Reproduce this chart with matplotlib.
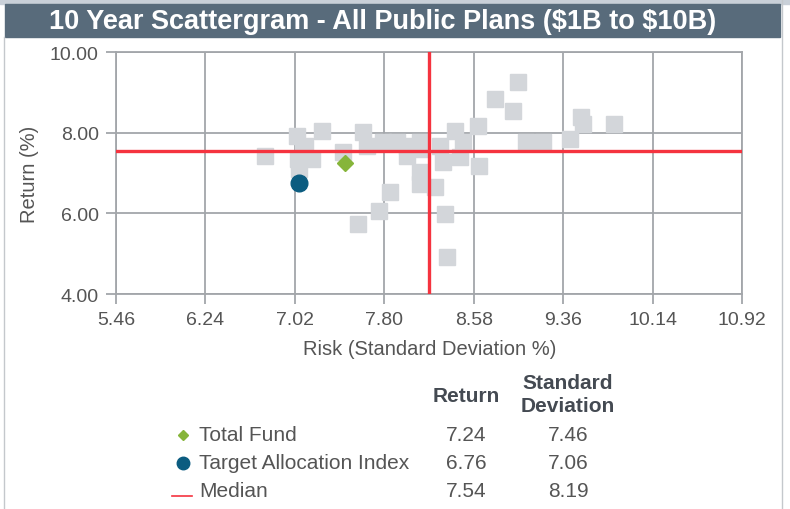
import matplotlib.pyplot as plt
from matplotlib.lines import Line2D
from matplotlib.patches import Rectangle

# peer universe (risk = std dev %, return %)
peer_risk = [6.76, 7.04, 7.26, 7.05, 7.17, 7.06, 7.11, 7.09, 7.61, 7.44, 7.65,
             7.79, 7.91, 8.00, 8.11, 8.00, 8.11, 8.11, 8.24, 7.85, 7.75, 7.57,
             8.33, 8.35, 8.29, 8.42, 8.49, 8.31, 8.46, 8.63, 8.62, 8.77, 8.97,
             8.92, 9.52, 9.53, 9.80, 9.04, 9.18, 9.42, 8.11]
peer_return = [7.42, 7.92, 8.04, 7.35, 7.35, 7.10, 7.67, 7.52, 8.02, 7.52, 7.67,
               7.77, 7.77, 7.67, 7.77, 7.42, 7.02, 6.73, 6.65, 6.53, 6.06, 5.74,
               5.98, 4.92, 7.67, 8.04, 7.77, 7.27, 7.40, 7.17, 8.17, 8.83, 9.26,
               8.54, 8.39, 8.21, 8.21, 7.77, 7.77, 7.84, 7.59]

series_names = ["Total Fund", "Target Allocation Index", "Median"]
series_return = [7.24, 6.76, 7.54]
series_risk = [7.46, 7.06, 8.19]

x_ticks = [5.46, 6.24, 7.02, 7.80, 8.58, 9.36, 10.14, 10.92]
y_ticks = [4.0, 6.0, 8.0, 10.0]

plt.rcParams['font.family'] = ['Liberation Sans', 'DejaVu Sans']

W, H = 790, 510
fig = plt.figure(figsize=(W / 100, H / 100), dpi=100)
fig.patch.set_facecolor('white')

def fx(px):
    return px / W

def fy(py):
    return 1 - py / H

# frame / title bar
fig.patches.append(Rectangle((0, fy(5)), 1, 5 / H, transform=fig.transFigure,
                             color='#c9d0d8', zorder=0))
fig.patches.append(Rectangle((fx(5), fy(38)), fx(775), 33 / H, transform=fig.transFigure,
                             color='#586b7b', zorder=1))
fig.add_artist(Line2D([fx(4), fx(4)], [0, fy(38)], color='#c4c8cc', lw=1))
fig.add_artist(Line2D([fx(782), fx(782)], [0, 1], color='#c4c8cc', lw=1))
fig.text(fx(383), fy(22), "10 Year Scattergram - All Public Plans (\\$1B to \\$10B)",
         color='white', fontsize=19.5, fontweight='bold', ha='center', va='center')

ax = fig.add_axes([fx(116), fy(295), fx(742) - fx(116), (295 - 53) / H])
ax.set_xlim(x_ticks[0], x_ticks[-1])
ax.set_ylim(y_ticks[0], y_ticks[-1])
ax.set_xticks(x_ticks)
ax.set_xticklabels(["%.2f" % v for v in x_ticks])
ax.set_yticks(y_ticks)
ax.set_yticklabels(["%.2f" % v for v in y_ticks])
ax.grid(True, color='#a3a6aa', lw=1.3, zorder=0)
ax.set_axisbelow(True)
for s in ax.spines.values():
    s.set_color('#a3a6aa')
    s.set_linewidth(1.3)
ax.tick_params(colors='#a3a6aa', labelcolor='#555555', labelsize=14, length=7.5, width=1.3)
ax.tick_params(axis='x', pad=5)
ax.tick_params(axis='y', pad=5)

ax.plot(peer_risk, peer_return, 's', ms=12, color='#d3d6da', mec='#d3d6da', zorder=2)
ax.axhline(series_return[2], color='#f5333f', lw=2.4, zorder=3)
ax.axvline(series_risk[2], color='#f5333f', lw=2.4, zorder=3)
ax.plot(series_risk[0], series_return[0], 'D', ms=8.5, color='#86b53a', zorder=4)
ax.plot(series_risk[1], series_return[1], 'o', ms=12, color='#0b5c80', zorder=4)

ax.set_xlabel("Risk (Standard Deviation %)", fontsize=14.5, color='#555555')
ax.set_ylabel("Return (%)", fontsize=14.5, color='#555555')
ax.xaxis.set_label_coords((430 - 116) / 626, (295 - 340) / 242)
ax.yaxis.set_label_coords((39 - 116) / 626, 0.5)

# legend table
hdr = dict(fontsize=15, fontweight='bold', color='#444a52', ha='center', va='center')
fig.text(fx(466), fy(396), "Return", **hdr)
fig.text(fx(568), fy(384), "Standard", **hdr)
fig.text(fx(568), fy(407), "Deviation", **hdr)

rows_y = [436, 464, 492]
txt = dict(fontsize=15, color='#555555', va='center')
for name, ret, risk, py in zip(series_names, series_return, series_risk, rows_y):
    fig.text(fx(199), fy(py), name, ha='left', **txt)
    fig.text(fx(466), fy(py), "%.2f" % ret, ha='center', **txt)
    fig.text(fx(568), fy(py), "%.2f" % risk, ha='center', **txt)

fig.add_artist(Line2D([fx(183)], [fy(436)], marker='D', ms=5.5, color='#86b53a',
                      transform=fig.transFigure))
fig.add_artist(Line2D([fx(183)], [fy(464)], marker='o', ms=9, color='#0b5c80',
                      transform=fig.transFigure))
fig.add_artist(Line2D([fx(172), fx(192)], [fy(497), fy(497)], color='#f5333f', lw=1.2,
                      transform=fig.transFigure))

fig.savefig("out.png", dpi=100)
